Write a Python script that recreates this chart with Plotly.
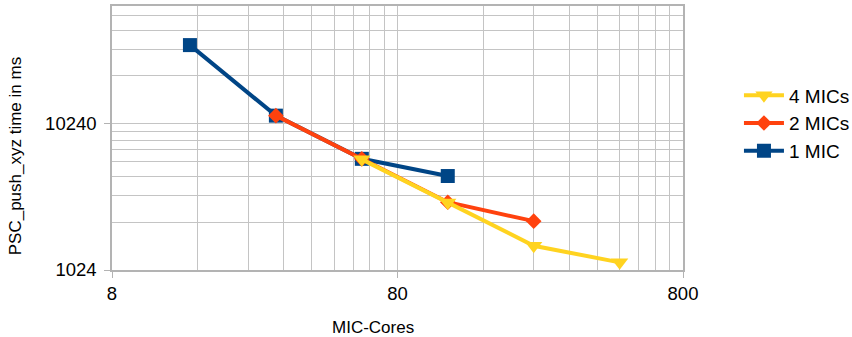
import plotly.graph_objects as go
import numpy as np

# Data (log-log)
cores_1mic = [15, 30, 60, 120]
time_1mic = [35400, 11650, 5900, 4500]

cores_2mic = [30, 60, 120, 240]
time_2mic = [11650, 5900, 2980, 2210]

cores_4mic = [60, 120, 240, 480]
time_4mic = [5850, 2960, 1500, 1155]

x_ticks = [8, 80, 800]
y_ticks = [1024, 10240]
y_top = 65536

x_title = "MIC-Cores"
y_title = "PSC_push_xyz time in ms"

# minor grid: x splits each decade into 9 parts, y into 8 parts (LibreOffice style)
x_minor = []
for a, b in zip(x_ticks[:-1], x_ticks[1:]):
    step = (b - a) / 9
    x_minor += [a + step * k for k in range(1, 9)]
y_minor = []
for a in y_ticks:
    step = (a * 10 - a) / 8
    y_minor += [a + step * k for k in range(1, 8) if a + step * k < y_top]

BLUE = "#004586"
RED = "#ff420e"
YEL = "#ffd320"

fig = go.Figure()
fig.add_trace(go.Scatter(x=cores_1mic, y=time_1mic, name="1 MIC", mode="lines+markers",
                         line=dict(color=BLUE, width=4),
                         marker=dict(symbol="square", size=14, color=BLUE)))
fig.add_trace(go.Scatter(x=cores_2mic, y=time_2mic, name="2 MICs", mode="lines+markers",
                         line=dict(color=RED, width=4),
                         marker=dict(symbol="diamond", size=12, color=RED)))
fig.add_trace(go.Scatter(x=cores_4mic, y=time_4mic, name="4 MICs", mode="lines+markers",
                         line=dict(color=YEL, width=4),
                         marker=dict(symbol="triangle-down", size=15, color=YEL)))

GRID = "#c4c4c4"
AX = "#b3b3b3"
FONT = "Liberation Sans, Arial, sans-serif"

fig.update_layout(
    width=852, height=337,
    margin=dict(l=111.5, r=169.3, t=5.5, b=67, autoexpand=False),
    paper_bgcolor="white", plot_bgcolor="white",
    font=dict(family=FONT, color="black", size=18),
    showlegend=True,
    legend=dict(traceorder="reversed", x=1.098, xanchor="left", y=0.555, yanchor="middle",
                font=dict(size=19, family=FONT), bgcolor="rgba(0,0,0,0)",
                itemwidth=40, tracegroupgap=0),
    annotations=[
        dict(text=x_title, xref="paper", yref="paper", x=-0.0685, y=-0.219,
             xanchor="left", yanchor="middle", showarrow=False,
             font=dict(size=17, family=FONT, color="black")),
        dict(text=y_title, xref="paper", yref="paper", x=-0.1698, y=0.431,
             xanchor="center", yanchor="middle", showarrow=False, textangle=-90,
             font=dict(size=17, family=FONT, color="black")),
    ],
)
fig.layout.annotations[0].x = (372.5 - 111.5) / 571.2
fig.layout.annotations[0].xanchor = "center"
fig.update_xaxes(
    type="log", range=[np.log10(x_ticks[0]), np.log10(x_ticks[-1])],
    tickmode="array", tickvals=x_ticks, ticktext=[str(v) for v in x_ticks],
    ticks="outside", ticklen=6, tickcolor=AX, tickwidth=1,
    showgrid=True, gridcolor=GRID, gridwidth=1,
    minor=dict(tickmode="array", tickvals=x_minor, showgrid=True, gridcolor=GRID, gridwidth=1, ticks=""),
    showline=True, linecolor=AX, linewidth=1.5, mirror=True,
    zeroline=False,
    tickfont=dict(size=18.5, family=FONT),
)
fig.update_yaxes(
    type="log", range=[np.log10(y_ticks[0]), np.log10(y_top)],
    tickmode="array", tickvals=y_ticks, ticktext=[str(v) for v in y_ticks],
    ticks="outside", ticklen=6, tickcolor=AX, tickwidth=1,
    showgrid=True, gridcolor=GRID, gridwidth=1,
    minor=dict(tickmode="array", tickvals=y_minor, showgrid=True, gridcolor=GRID, gridwidth=1, ticks=""),
    showline=True, linecolor=AX, linewidth=1.5, mirror=True,
    zeroline=False,
    tickfont=dict(size=18.5, family=FONT),
    ticklabelstandoff=4,
)

fig.write_html("out.html", config={"displayModeBar": False},
               post_script="document.body.style.margin='0px';")
